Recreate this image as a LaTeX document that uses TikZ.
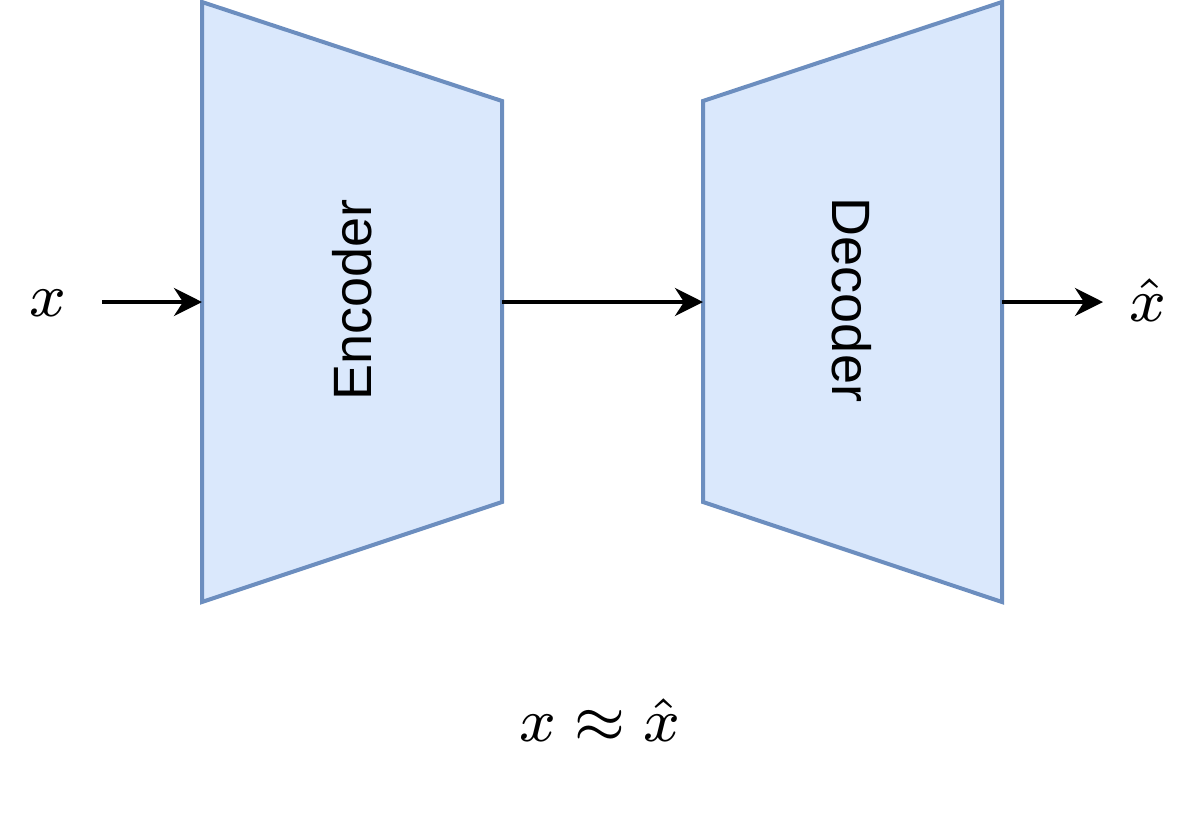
\documentclass[tikz,border=0pt]{standalone}
\usepackage{fontspec}
\setsansfont{Liberation Sans}
\usetikzlibrary{arrows.meta}
\definecolor{boxfill}{HTML}{DAE8FC}
\definecolor{boxline}{HTML}{6C8EBF}
\tikzset{
  block/.style={draw=boxline, fill=boxfill, line width=4pt, line join=miter},
  lbl/.style={font=\sffamily\fontsize{54}{60}\selectfont, inner sep=0pt},
  mathlbl/.style={inner sep=0pt, font=\footnotesize, scale=7.7},
  arr/.style={line width=4pt, -{Stealth[length=28pt, width=28pt, inset=9pt]}}
}
\begin{document}
\begin{tikzpicture}[x=1pt, y=1pt]
\useasboundingbox (0,0) rectangle (1200,-815);
% trapezoids
\draw[block] (202,-2) -- (502,-101) -- (502,-502) -- (202,-602) -- cycle;
\draw[block] (703,-101) -- (1002,-2) -- (1002,-602) -- (703,-502) -- cycle;
\node[lbl, rotate=90] (enc) at (352,-300) {Encoder};
\node[lbl, rotate=-90] (dec) at (852,-300) {Decoder};
% ports
\coordinate (encL) at (202,-302);
\coordinate (encR) at (502,-302);
\coordinate (decL) at (703,-302);
\coordinate (decR) at (1002,-302);
\coordinate (inS) at (102,-302);
\coordinate (outE) at (1103,-302);
% labels
\node[mathlbl] (xin) at (48,-303) {$x$};
\node[mathlbl] (xout) at (1148,-300) {$\hat{x}$};
\node[mathlbl] (approx) at (600,-720) {$x \approx \hat{x}$};
% connectors
\draw[arr] (inS) -- (encL);
\draw[arr] (encR) -- (decL);
\draw[arr] (decR) -- (outE);
\end{tikzpicture}
\end{document}
